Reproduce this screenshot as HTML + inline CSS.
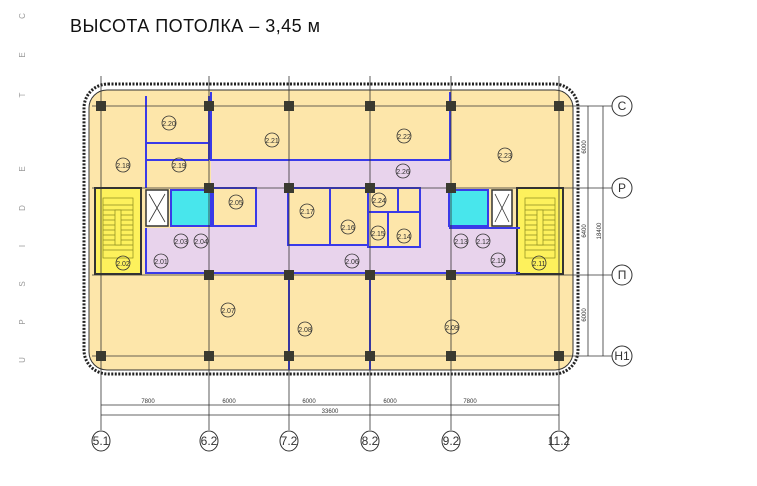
<!DOCTYPE html>
<html><head><meta charset="utf-8"><style>
html,body{margin:0;padding:0;background:#fff;}
svg{display:block;font-family:"Liberation Sans",sans-serif;}
.lb circle{fill:none;stroke:#333;stroke-width:0.8}
.lb text{font-size:7px;fill:#333;text-anchor:middle}
.w{stroke:#3a3ae8;stroke-width:2;fill:none}
.g{stroke:#333;stroke-width:0.8}
.col{fill:#3a3a30}
.ax circle,.ax ellipse{fill:#fff;stroke:#333;stroke-width:1}
.ax text{font-size:12px;fill:#333;text-anchor:middle}
.d{font-size:6px;fill:#333;text-anchor:middle}
</style></head><body>
<svg width="757" height="486" viewBox="0 0 757 486">
<rect width="757" height="486" fill="#fff"/>
<text x="70" y="32" font-size="18" textLength="250" fill="#111">ВЫСОТА ПОТОЛКА – 3,45 м</text>
<g font-size="8" fill="#999" text-anchor="middle">
<text transform="translate(25,16) rotate(-90)">C</text>
<text transform="translate(25,55) rotate(-90)">E</text>
<text transform="translate(25,95) rotate(-90)">T</text>
<text transform="translate(25,169) rotate(-90)">E</text>
<text transform="translate(25,208) rotate(-90)">D</text>
<text transform="translate(25,246) rotate(-90)">I</text>
<text transform="translate(25,284) rotate(-90)">S</text>
<text transform="translate(25,322) rotate(-90)">P</text>
<text transform="translate(25,360) rotate(-90)">U</text>
</g>
<rect x="84" y="84" width="494" height="290" rx="24" fill="#fff" stroke="#222" stroke-width="3" stroke-dasharray="2 1.5"/>
<rect x="89" y="90" width="484" height="280" rx="18" fill="#fde6aa" stroke="#333" stroke-width="1"/>
<path d="M211 160 H450 V188 H449 V228 H520 V273 H146 V228 H211 Z" fill="#e8d3ec"/>
<rect x="211" y="188" width="238" height="40" fill="#e8d3ec"/>
<g class="w">
<rect x="213" y="188" width="43" height="38" style="fill:#fde6aa"/>
<rect x="288" y="188" width="42" height="57" style="fill:#fde6aa"/>
<rect x="330" y="188" width="38" height="57" style="fill:#fde6aa"/>
<rect x="368" y="188" width="30" height="24" style="fill:#fde6aa"/>
<rect x="398" y="188" width="22" height="24" style="fill:#fde6aa"/>
<rect x="368" y="212" width="20" height="35" style="fill:#fde6aa"/>
<rect x="388" y="212" width="32" height="35" style="fill:#fde6aa"/>
<rect x="171" y="190" width="40" height="36" style="fill:#48e6ec"/>
<rect x="449" y="190" width="39" height="36" style="fill:#48e6ec"/>
</g>
<rect x="95" y="188" width="46" height="86" fill="#fdf15c" stroke="#333" stroke-width="2"/>
<rect x="517" y="188" width="46" height="86" fill="#fdf15c" stroke="#333" stroke-width="2"/>
<g stroke="#8a8a20" stroke-width="0.7" fill="none">
<path d="M103 205 H133 M103 210 H133 M103 215 H133 M103 220 H133 M103 225 H133 M103 230 H133 M103 235 H133 M103 240 H133 M103 245 H133 M103 250 H133"/>
<path d="M525 205 H555 M525 210 H555 M525 215 H555 M525 220 H555 M525 225 H555 M525 230 H555 M525 235 H555 M525 240 H555 M525 245 H555 M525 250 H555"/>
<rect x="103" y="198" width="30" height="60"/><rect x="115" y="210" width="6" height="35" fill="#fdf15c"/>
<rect x="525" y="198" width="30" height="60"/><rect x="537" y="210" width="6" height="35" fill="#fdf15c"/>
</g>
<rect x="146" y="190" width="22" height="36" fill="#fff" stroke="#333" stroke-width="1.5"/>
<path d="M149 194 L165 222 M165 194 L149 222" stroke="#333" stroke-width="0.8"/>
<rect x="492" y="190" width="20" height="36" fill="#fff" stroke="#333" stroke-width="1.5"/>
<path d="M495 194 L509 222 M509 194 L495 222" stroke="#333" stroke-width="0.8"/>
<g class="w">
<path d="M146 96 V188 M146 143 H209 M209 96 V160 M146 160 H209"/>
<path d="M211 92 V160 H450 M450 92 V160"/>
<path d="M146 228 V273 H520 M449 228 H520"/>
<path d="M289 275 V370 M370 275 V370"/>
</g>
<g class="g">
<line x1="101" y1="76" x2="101" y2="430"/><line x1="209" y1="76" x2="209" y2="430"/>
<line x1="289" y1="76" x2="289" y2="430"/><line x1="370" y1="76" x2="370" y2="430"/>
<line x1="451" y1="76" x2="451" y2="430"/><line x1="559" y1="76" x2="559" y2="430"/>
<line x1="92" y1="106" x2="612" y2="106"/><line x1="92" y1="188" x2="612" y2="188"/>
<line x1="92" y1="275" x2="612" y2="275"/><line x1="92" y1="356" x2="612" y2="356"/>
<line x1="588" y1="106" x2="588" y2="356"/><line x1="603" y1="106" x2="603" y2="356"/>
<line x1="101" y1="405" x2="559" y2="405"/><line x1="101" y1="415" x2="559" y2="415"/>
</g>
<g class="col">
<rect x="96" y="101" width="10" height="10"/><rect x="204" y="101" width="10" height="10"/><rect x="284" y="101" width="10" height="10"/><rect x="365" y="101" width="10" height="10"/><rect x="446" y="101" width="10" height="10"/><rect x="554" y="101" width="10" height="10"/>
<rect x="204" y="183" width="10" height="10"/><rect x="284" y="183" width="10" height="10"/><rect x="365" y="183" width="10" height="10"/><rect x="446" y="183" width="10" height="10"/>
<rect x="204" y="270" width="10" height="10"/><rect x="284" y="270" width="10" height="10"/><rect x="365" y="270" width="10" height="10"/><rect x="446" y="270" width="10" height="10"/>
<rect x="96" y="351" width="10" height="10"/><rect x="204" y="351" width="10" height="10"/><rect x="284" y="351" width="10" height="10"/><rect x="365" y="351" width="10" height="10"/><rect x="446" y="351" width="10" height="10"/><rect x="554" y="351" width="10" height="10"/>
</g>
<g class="lb">
<circle cx="169" cy="123" r="7"/><text x="169" y="126">2.20</text>
<circle cx="272" cy="140" r="7"/><text x="272" y="143">2.21</text>
<circle cx="404" cy="136" r="7"/><text x="404" y="139">2.22</text>
<circle cx="505" cy="155" r="7"/><text x="505" y="158">2.23</text>
<circle cx="123" cy="165" r="7"/><text x="123" y="168">2.18</text>
<circle cx="179" cy="165" r="7"/><text x="179" y="168">2.19</text>
<circle cx="403" cy="171" r="7"/><text x="403" y="174">2.26</text>
<circle cx="236" cy="202" r="7"/><text x="236" y="205">2.05</text>
<circle cx="307" cy="211" r="7"/><text x="307" y="214">2.17</text>
<circle cx="348" cy="227" r="7"/><text x="348" y="230">2.16</text>
<circle cx="379" cy="200" r="7"/><text x="379" y="203">2.24</text>
<circle cx="378" cy="233" r="7"/><text x="378" y="236">2.15</text>
<circle cx="404" cy="236" r="7"/><text x="404" y="239">2.14</text>
<circle cx="181" cy="241" r="7"/><text x="181" y="244">2.03</text>
<circle cx="201" cy="241" r="7"/><text x="201" y="244">2.04</text>
<circle cx="161" cy="261" r="7"/><text x="161" y="264">2.01</text>
<circle cx="123" cy="263" r="7"/><text x="123" y="266">2.02</text>
<circle cx="352" cy="261" r="7"/><text x="352" y="264">2.06</text>
<circle cx="461" cy="241" r="7"/><text x="461" y="244">2.13</text>
<circle cx="483" cy="241" r="7"/><text x="483" y="244">2.12</text>
<circle cx="498" cy="260" r="7"/><text x="498" y="263">2.10</text>
<circle cx="539" cy="263" r="7"/><text x="539" y="266">2.11</text>
<circle cx="228" cy="310" r="7"/><text x="228" y="313">2.07</text>
<circle cx="305" cy="329" r="7"/><text x="305" y="332">2.08</text>
<circle cx="452" cy="327" r="7"/><text x="452" y="330">2.09</text>
</g>
<text class="d" x="148" y="403">7800</text><text class="d" x="229" y="403">6000</text><text class="d" x="309" y="403">6000</text><text class="d" x="390" y="403">6000</text><text class="d" x="470" y="403">7800</text><text class="d" x="330" y="413">33600</text>
<text class="d" transform="translate(586,147) rotate(-90)">6000</text>
<text class="d" transform="translate(586,231) rotate(-90)">6400</text>
<text class="d" transform="translate(601,231) rotate(-90)">18400</text>
<text class="d" transform="translate(586,315) rotate(-90)">6000</text>
<g class="ax">
<circle cx="622" cy="106" r="10"/><text x="622" y="110">C</text>
<circle cx="622" cy="188" r="10"/><text x="622" y="192">P</text>
<circle cx="622" cy="275" r="10"/><text x="622" y="279">П</text>
<circle cx="622" cy="356" r="10"/><text x="622" y="360">H1</text>
<ellipse cx="101" cy="441" rx="9" ry="10"/><text x="101" y="445">5.1</text>
<ellipse cx="209" cy="441" rx="9" ry="10"/><text x="209" y="445">6.2</text>
<ellipse cx="289" cy="441" rx="9" ry="10"/><text x="289" y="445">7.2</text>
<ellipse cx="370" cy="441" rx="9" ry="10"/><text x="370" y="445">8.2</text>
<ellipse cx="451" cy="441" rx="9" ry="10"/><text x="451" y="445">9.2</text>
<ellipse cx="559" cy="441" rx="9" ry="10"/><text x="559" y="445">11.2</text>
</g>
</svg>
</body></html>
